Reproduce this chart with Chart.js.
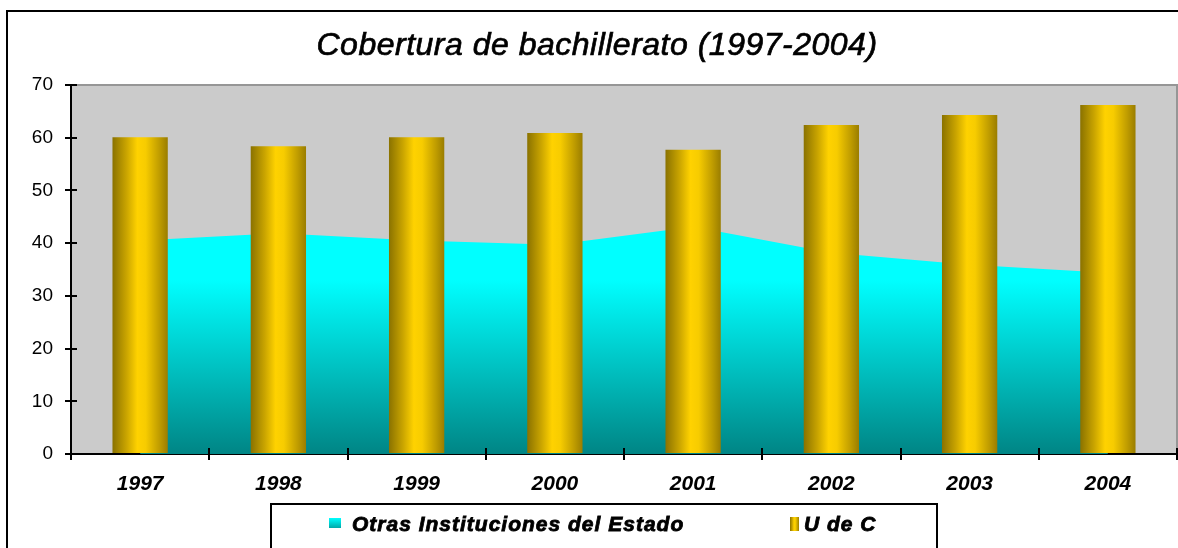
<!DOCTYPE html>
<html>
<head>
<meta charset="utf-8">
<script src="https://cdn.jsdelivr.net/npm/chart.js@4/dist/chart.umd.min.js"></script>
<style>
  html, body { margin: 0; padding: 0; background: #fff; }
  #wrap { width: 1178px; height: 548px; }
</style>
</head>
<body>
<div id="wrap"><canvas id="myChart" width="1178" height="548"></canvas></div>
<script>
var years = ['1997', '1998', '1999', '2000', '2001', '2002', '2003', '2004'];
var otrasInstituciones = [40.5, 41.9, 40.5, 39.7, 43.1, 38.2, 35.9, 34.4];
var uDeC = [60.1, 58.4, 60.1, 60.9, 57.7, 62.4, 64.3, 66.2];
var yTicks = [0, 10, 20, 30, 40, 50, 60, 70];

var chartTitle = 'Cobertura de bachillerato (1997-2004)';
var fontFamily = '"Liberation Sans", Arial, sans-serif';

function goldGradient(ctx, x0, x1) {
    var g = ctx.createLinearGradient(x0, 0, x1, 0);
    g.addColorStop(0, '#8a7200');
    g.addColorStop(0.25, '#c9a400');
    g.addColorStop(0.45, '#ffd200');
    g.addColorStop(0.6, '#f7cc00');
    g.addColorStop(0.85, '#bf9c00');
    g.addColorStop(1, '#9a7d00');
    return g;
}

var framePlugin = {
    id: 'frame',
    beforeDraw: function(chart) {
        var ctx = chart.ctx;
        var a = chart.chartArea;
        ctx.save();
        // plot background
        ctx.fillStyle = '#cbcbcb';
        ctx.fillRect(a.left, a.top, a.right - a.left, a.bottom - a.top);
        ctx.strokeStyle = '#969696';
        ctx.lineWidth = 2;
        ctx.beginPath();
        ctx.moveTo(a.left, a.top);
        ctx.lineTo(a.right, a.top);
        ctx.lineTo(a.right, a.bottom);
        ctx.stroke();
        // outer border
        ctx.strokeStyle = '#000';
        ctx.lineWidth = 2;
        ctx.strokeRect(7, 11, 1200, 600);
        // title
        ctx.fillStyle = '#000';
        ctx.font = 'italic 32px ' + fontFamily;
        ctx.letterSpacing = '0.5px';
        ctx.textAlign = 'center';
        ctx.textBaseline = 'alphabetic';
        ctx.fillText(chartTitle, 597, 55);
        ctx.lineWidth = 0.7;
        ctx.strokeText(chartTitle, 597, 55);
        ctx.restore();
    },
    afterDraw: function(chart) {
        var ctx = chart.ctx;
        var a = chart.chartArea;
        var xs = chart.scales.x, ys = chart.scales.y;
        ctx.save();
        // tick marks inside the plot
        ctx.strokeStyle = '#000';
        ctx.lineWidth = 2;
        ctx.beginPath();
        yTicks.forEach(function(v) {
            var y = Math.round(ys.getPixelForValue(v));
            ctx.moveTo(a.left, y);
            ctx.lineTo(a.left + 6, y);
        });
        for (var i = 0; i <= years.length; i++) {
            var x = Math.round(xs.getPixelForValue(i - 0.5));
            ctx.moveTo(x, a.bottom);
            ctx.lineTo(x, a.bottom - 6);
        }
        ctx.stroke();

        // legend
        ctx.lineWidth = 2;
        ctx.fillStyle = '#fff';
        ctx.fillRect(271, 504, 666, 60);
        ctx.strokeRect(271, 504, 666, 60);

        var cyan = ctx.createLinearGradient(0, 518, 0, 529);
        cyan.addColorStop(0, '#00ffff');
        cyan.addColorStop(1, '#00a0a0');
        ctx.fillStyle = cyan;
        ctx.fillRect(329, 518, 12, 10);
        ctx.fillStyle = goldGradient(ctx, 790, 799);
        ctx.fillRect(790, 517, 9, 14);

        ctx.fillStyle = '#000';
        ctx.strokeStyle = '#000';
        ctx.font = 'italic bold 21px ' + fontFamily;
        ctx.letterSpacing = '1px';
        ctx.textAlign = 'left';
        ctx.textBaseline = 'middle';
        ctx.lineWidth = 0.8;
        ctx.fillText(chart.data.datasets[1].label, 352, 525);
        ctx.strokeText(chart.data.datasets[1].label, 352, 525);
        ctx.fillText(chart.data.datasets[0].label, 804, 525);
        ctx.strokeText(chart.data.datasets[0].label, 804, 525);
        ctx.restore();
    }
};

window.onload = function() {
    var ctx = document.getElementById('myChart').getContext('2d');

    var myChart = new Chart(ctx, {
        type: 'bar',
        data: {
            labels: years,
            datasets: [
                {
                    label: 'U de C',
                    data: uDeC,
                    order: 0,
                    barPercentage: 0.4,
                    categoryPercentage: 1,
                    borderWidth: 0,
                    backgroundColor: function(c) {
                        var chart = c.chart;
                        var xs = chart.scales.x;
                        if (!xs || c.dataIndex === undefined) return '#ffd200';
                        var cx = xs.getPixelForValue(c.dataIndex);
                        var w = (xs.getPixelForValue(1) - xs.getPixelForValue(0)) * 0.4;
                        if (!isFinite(cx) || !isFinite(w) || w <= 0) return '#ffd200';
                        return goldGradient(chart.ctx, cx - w / 2, cx + w / 2);
                    }
                },
                {
                    type: 'line',
                    label: 'Otras Instituciones del Estado',
                    data: otrasInstituciones,
                    order: 1,
                    fill: 'origin',
                    tension: 0,
                    borderWidth: 0,
                    borderColor: 'rgba(0,0,0,0)',
                    pointRadius: 0,
                    pointHoverRadius: 0,
                    backgroundColor: function(c) {
                        var chart = c.chart;
                        var a = chart.chartArea;
                        if (!a || !chart.scales.y) return '#00ffff';
                        var top = chart.scales.y.getPixelForValue(33);
                        if (!isFinite(top) || !isFinite(a.bottom)) return '#00ffff';
                        var g = chart.ctx.createLinearGradient(0, top, 0, a.bottom);
                        g.addColorStop(0, '#00ffff');
                        g.addColorStop(1, '#008585');
                        return g;
                    }
                }
            ]
        },
        options: {
            responsive: false,
            animation: false,
            devicePixelRatio: 1,
            layout: {
                padding: { left: 0, top: 85, right: 1, bottom: 0 }
            },
            scales: {
                x: {
                    offset: true,
                    grid: {
                        offset: true,
                        drawOnChartArea: false,
                        color: '#000',
                        lineWidth: 2,
                        tickLength: 6
                    },
                    border: { color: '#000', width: 2 },
                    ticks: {
                        color: '#000',
                        padding: 12,
                        font: { family: fontFamily, size: 21, style: 'italic', weight: 'bold' }
                    },
                    afterFit: function(scale) { scale.height = 94; }
                },
                y: {
                    min: 0,
                    max: 70,
                    grid: {
                        drawOnChartArea: false,
                        color: '#000',
                        lineWidth: 2,
                        tickLength: 6
                    },
                    border: { color: '#000', width: 2 },
                    ticks: {
                        stepSize: 10,
                        color: '#000',
                        padding: 12,
                        font: { family: fontFamily, size: 19 }
                    },
                    afterFit: function(scale) { scale.width = 71; }
                }
            },
            plugins: {
                legend: { display: false },
                title: { display: false },
                tooltip: { enabled: false }
            }
        },
        plugins: [framePlugin]
    });
};
</script>
</body>
</html>
